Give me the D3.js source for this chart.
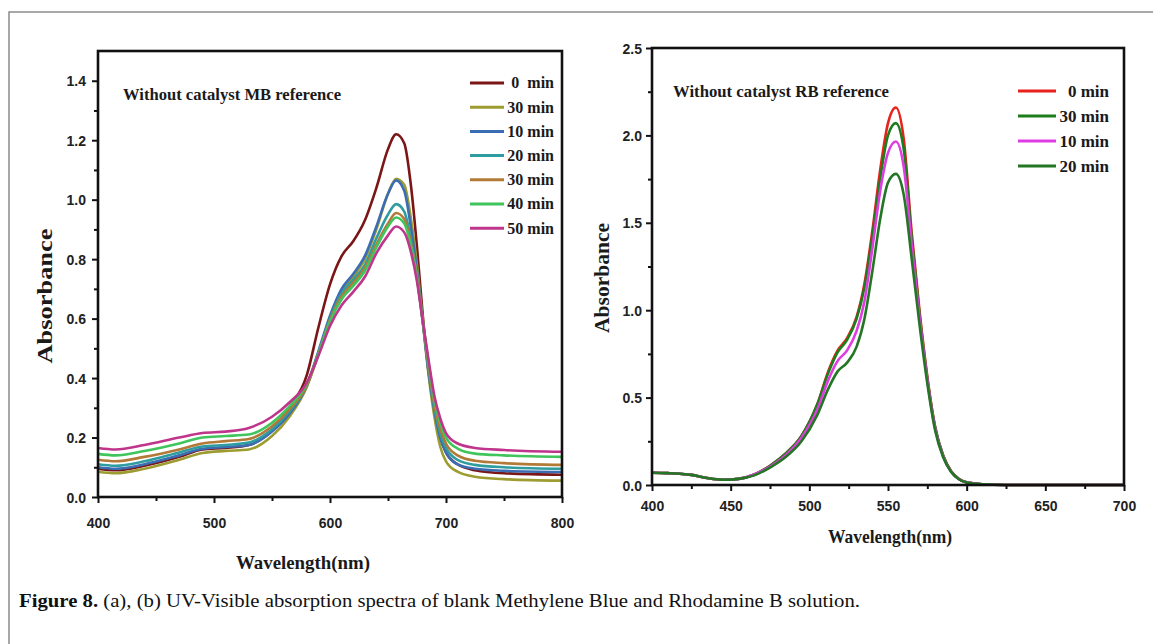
<!DOCTYPE html>
<html>
<head>
<meta charset="utf-8">
<script src="https://cdn.jsdelivr.net/npm/d3@7"></script>
<style>
  body { margin: 0; background: #fff; }
  svg { display: block; }
</style>
</head>
<body>
<svg id="fig" width="1153" height="644"></svg>
<script>
// (a) Methylene Blue, no catalyst
const mbWavelength = [400, 415, 440, 470, 490, 510, 530, 550, 565, 580, 590, 600, 610, 620, 630, 640, 650, 657, 664, 670, 675, 680, 685, 690, 695, 700, 710, 725, 750, 800];
const mbLabels = ['0  min', '30 min', '10 min', '20 min', '30 min', '40 min', '50 min'];
const mbColors = ['#7a1616', '#9d9c30', '#3b6db4', '#2f9c9f', '#b27a36', '#40c45c', '#c0358c'];
const mb0 = [0.095, 0.09, 0.105, 0.135, 0.16, 0.165, 0.175, 0.225, 0.3, 0.41, 0.57, 0.715, 0.81, 0.86, 0.93, 1.04, 1.17, 1.22, 1.19, 1.04, 0.84, 0.61, 0.42, 0.29, 0.2, 0.15, 0.11, 0.09, 0.08, 0.075];
const mb30a = [0.085, 0.08, 0.095, 0.125, 0.148, 0.155, 0.16, 0.205, 0.27, 0.37, 0.48, 0.6, 0.69, 0.74, 0.8, 0.9, 1.02, 1.07, 1.05, 0.93, 0.78, 0.59, 0.41, 0.27, 0.17, 0.12, 0.085, 0.068, 0.06, 0.055];
const mb10 = [0.1, 0.095, 0.11, 0.14, 0.162, 0.168, 0.175, 0.22, 0.28, 0.375, 0.49, 0.61, 0.7, 0.75, 0.81, 0.91, 1.02, 1.065, 1.03, 0.9, 0.76, 0.59, 0.42, 0.29, 0.2, 0.15, 0.11, 0.095, 0.088, 0.084];
const mb20 = [0.11, 0.105, 0.12, 0.15, 0.17, 0.175, 0.183, 0.228, 0.288, 0.375, 0.485, 0.6, 0.685, 0.73, 0.78, 0.87, 0.95, 0.985, 0.96, 0.86, 0.74, 0.59, 0.43, 0.3, 0.215, 0.165, 0.125, 0.108, 0.1, 0.095];
const mb30b = [0.125, 0.12, 0.135, 0.16, 0.18, 0.188, 0.195, 0.238, 0.295, 0.375, 0.48, 0.595, 0.675, 0.72, 0.77, 0.85, 0.92, 0.955, 0.935, 0.85, 0.74, 0.59, 0.44, 0.31, 0.23, 0.18, 0.14, 0.122, 0.114, 0.108];
const mb40 = [0.145, 0.14, 0.155, 0.18, 0.2, 0.205, 0.21, 0.25, 0.305, 0.38, 0.48, 0.59, 0.665, 0.71, 0.76, 0.84, 0.91, 0.94, 0.92, 0.84, 0.735, 0.59, 0.45, 0.325, 0.25, 0.2, 0.163, 0.146, 0.14, 0.135];
const mb50 = [0.165, 0.16, 0.175, 0.2, 0.215, 0.22, 0.232, 0.27, 0.318, 0.385, 0.475, 0.575, 0.645, 0.69, 0.74, 0.82, 0.88, 0.91, 0.89, 0.82, 0.725, 0.59, 0.46, 0.34, 0.265, 0.215, 0.18, 0.165, 0.158, 0.152];
const mbSeries = [mb0, mb30a, mb10, mb20, mb30b, mb40, mb50];
const mbXTicks = [400, 500, 600, 700, 800];
const mbXMinor = [450, 550, 650, 750];
const mbYTicks = [0, 0.2, 0.4, 0.6, 0.8, 1.0, 1.2, 1.4];
const mbYMinor = [0.1, 0.3, 0.5, 0.7, 0.9, 1.1, 1.3];

// (b) Rhodamine B, no catalyst
const rbWavelength = [400, 410, 425, 435, 445, 455, 465, 475, 485, 495, 505, 512, 518, 524, 530, 535, 540, 545, 550, 555, 560, 565, 570, 575, 580, 585, 590, 595, 600, 610, 625, 650, 700];
const rbLabels = ['0 min', '30 min', '10 min', '20 min'];
const rbColors = ['#e8211c', '#1c7d1c', '#e03ce4', '#237623'];
const rb0 = [0.07, 0.068, 0.058, 0.04, 0.03, 0.035, 0.06, 0.11, 0.18, 0.28, 0.46, 0.65, 0.77, 0.84, 0.96, 1.15, 1.45, 1.8, 2.07, 2.16, 1.98, 1.45, 1.0, 0.62, 0.33, 0.17, 0.08, 0.035, 0.015, 0.004, 0, 0, 0];
const rb30 = [0.07, 0.068, 0.058, 0.04, 0.03, 0.035, 0.06, 0.11, 0.18, 0.28, 0.46, 0.64, 0.76, 0.83, 0.95, 1.13, 1.42, 1.75, 2.0, 2.07, 1.92, 1.42, 0.98, 0.61, 0.33, 0.17, 0.08, 0.035, 0.015, 0.004, 0, 0, 0];
const rb10 = [0.07, 0.068, 0.058, 0.04, 0.03, 0.035, 0.06, 0.105, 0.17, 0.27, 0.43, 0.6, 0.71, 0.77, 0.88, 1.05, 1.35, 1.68, 1.9, 1.965, 1.82, 1.38, 0.96, 0.6, 0.32, 0.165, 0.078, 0.034, 0.015, 0.004, 0, 0, 0];
const rb20 = [0.07, 0.068, 0.058, 0.04, 0.03, 0.035, 0.055, 0.1, 0.16, 0.25, 0.4, 0.55, 0.65, 0.7, 0.79, 0.95, 1.22, 1.52, 1.73, 1.78, 1.66, 1.3, 0.92, 0.58, 0.31, 0.16, 0.076, 0.033, 0.014, 0.004, 0, 0, 0];
const rbSeries = [rb0, rb30, rb10, rb20];
const rbXTicks = [400, 450, 500, 550, 600, 650, 700];
const rbXMinor = [425, 475, 525, 575, 625, 675];
const rbYTicks = [0, 0.5, 1.0, 1.5, 2.0, 2.5];
const rbYMinor = [0.25, 0.75, 1.25, 1.75, 2.25];

const serif = "'Liberation Serif', 'Times New Roman', serif";
const sans = "'Liberation Sans', Arial, sans-serif";

const svg = d3.select('#fig');

// outer figure frame
svg
  .append('path')
  .attr('d', 'M9,644V12H1153')
  .attr('fill', 'none')
  .attr('stroke', '#8c8c8c')
  .attr('stroke-width', 1.5);

drawPanel({
  box: { left: 98, right: 562, top: 51, bottom: 497 },
  xDomain: [400, 800],
  yDomain: [0, 1.5],
  wavelength: mbWavelength,
  series: mbSeries,
  colors: mbColors,
  labels: mbLabels,
  xTicks: mbXTicks,
  xMinor: mbXMinor,
  yTicks: mbYTicks,
  yMinor: mbYMinor,
  xLabelY: 528,
  yLabelX: 86,
  title: { text: 'Without catalyst MB reference', x: 123, y: 100, len: 218 },
  legend: { x0: 470, x1: 504, textX: 554, y: 83, step: 24.2, size: 16 },
  xTitle: { x: 303, y: 569, len: 134 },
  yTitle: { x: 52, y: 296, len: 135 },
});

drawPanel({
  box: { left: 652, right: 1124, top: 48, bottom: 485 },
  xDomain: [400, 700],
  yDomain: [0, 2.5],
  wavelength: rbWavelength,
  series: rbSeries,
  colors: rbColors,
  labels: rbLabels,
  xTicks: rbXTicks,
  xMinor: rbXMinor,
  yTicks: rbYTicks,
  yMinor: rbYMinor,
  xLabelY: 511,
  yLabelX: 642,
  title: { text: 'Without catalyst RB reference', x: 673, y: 97, len: 216 },
  legend: { x0: 1018, x1: 1056, textX: 1109, y: 91, step: 25, size: 17 },
  xTitle: { x: 890, y: 543, len: 124 },
  yTitle: { x: 609, y: 278, len: 110 },
});

// caption
const caption = svg
  .append('text')
  .attr('x', 19)
  .attr('y', 607)
  .attr('font-family', serif)
  .attr('font-size', 19)
  .attr('fill', '#111')
  .attr('textLength', 841)
  .attr('lengthAdjust', 'spacingAndGlyphs');
caption.append('tspan').attr('font-weight', 'bold').text('Figure 8.');
caption
  .append('tspan')
  .text(' (a), (b) UV-Visible absorption spectra of blank Methylene Blue and Rhodamine B solution.');

function drawPanel(p) {
  const b = p.box;
  const x = d3.scaleLinear().domain(p.xDomain).range([b.left, b.right]);
  const y = d3.scaleLinear().domain(p.yDomain).range([b.bottom, b.top]);
  const g = svg.append('g');

  const line = d3
    .line()
    .x((d) => x(d[0]))
    .y((d) => y(d[1]))
    .curve(d3.curveMonotoneX);

  g.append('g')
    .selectAll('path')
    .data(p.series)
    .join('path')
    .attr('d', (s) => line(p.wavelength.map((w, i) => [w, s[i]])))
    .attr('fill', 'none')
    .attr('stroke', (s, i) => p.colors[i])
    .attr('stroke-width', 2.6)
    .attr('stroke-linejoin', 'round');

  // minor ticks
  g.append('g')
    .attr('transform', `translate(0,${b.bottom})`)
    .call(d3.axisBottom(x).tickValues(p.xMinor).tickSize(4).tickFormat(''))
    .call(styleAxis);
  g.append('g')
    .attr('transform', `translate(${b.left},0)`)
    .call(d3.axisLeft(y).tickValues(p.yMinor).tickSize(4).tickFormat(''))
    .call(styleAxis);

  // major ticks + labels
  g.append('g')
    .attr('transform', `translate(0,${b.bottom})`)
    .call(d3.axisBottom(x).tickValues(p.xTicks).tickSize(6).tickFormat(d3.format('d')))
    .call(styleAxis)
    .call((a) => a.selectAll('text').attr('y', p.xLabelY - b.bottom).attr('dy', null));
  g.append('g')
    .attr('transform', `translate(${b.left},0)`)
    .call(d3.axisLeft(y).tickValues(p.yTicks).tickSize(6).tickFormat(d3.format('.1f')))
    .call(styleAxis)
    .call((a) => a.selectAll('text').attr('x', p.yLabelX - b.left).attr('dy', '0.36em'));

  // box
  g.append('rect')
    .attr('x', b.left)
    .attr('y', b.top)
    .attr('width', b.right - b.left)
    .attr('height', b.bottom - b.top)
    .attr('fill', 'none')
    .attr('stroke', '#111')
    .attr('stroke-width', 2.6);

  g.append('text')
    .attr('x', p.title.x)
    .attr('y', p.title.y)
    .attr('font-family', serif)
    .attr('font-weight', 'bold')
    .attr('font-size', 16)
    .attr('fill', '#1a1a1a')
    .attr('textLength', p.title.len)
    .attr('lengthAdjust', 'spacingAndGlyphs')
    .text(p.title.text);

  // legend
  const lg = g
    .append('g')
    .selectAll('g')
    .data(p.labels)
    .join('g')
    .attr('transform', (d, i) => `translate(0,${p.legend.y + i * p.legend.step})`);
  lg.append('line')
    .attr('x1', p.legend.x0)
    .attr('x2', p.legend.x1)
    .attr('stroke', (d, i) => p.colors[i])
    .attr('stroke-width', 3);
  lg.append('text')
    .attr('x', p.legend.textX)
    .attr('dy', '0.34em')
    .attr('text-anchor', 'end')
    .attr('font-family', serif)
    .attr('font-weight', 'bold')
    .attr('font-size', p.legend.size)
    .attr('fill', '#1a1a1a')
    .style('white-space', 'pre')
    .text((d) => d);

  // axis titles
  g.append('text')
    .attr('x', p.xTitle.x)
    .attr('y', p.xTitle.y)
    .attr('text-anchor', 'middle')
    .attr('font-family', serif)
    .attr('font-weight', 'bold')
    .attr('font-size', 19)
    .attr('fill', '#1a1a1a')
    .attr('textLength', p.xTitle.len)
    .attr('lengthAdjust', 'spacingAndGlyphs')
    .text('Wavelength(nm)');
  g.append('text')
    .attr('transform', `translate(${p.yTitle.x},${p.yTitle.y}) rotate(-90)`)
    .attr('text-anchor', 'middle')
    .attr('font-family', serif)
    .attr('font-weight', 'bold')
    .attr('font-size', 20)
    .attr('fill', '#1a1a1a')
    .attr('textLength', p.yTitle.len)
    .attr('lengthAdjust', 'spacingAndGlyphs')
    .text('Absorbance');
}

function styleAxis(a) {
  a.select('.domain').remove();
  a.selectAll('.tick line').attr('stroke', '#111').attr('stroke-width', 2);
  a.selectAll('.tick text')
    .attr('font-family', sans)
    .attr('font-weight', 'bold')
    .attr('font-size', 14)
    .attr('fill', '#222');
}
</script>
</body>
</html>
